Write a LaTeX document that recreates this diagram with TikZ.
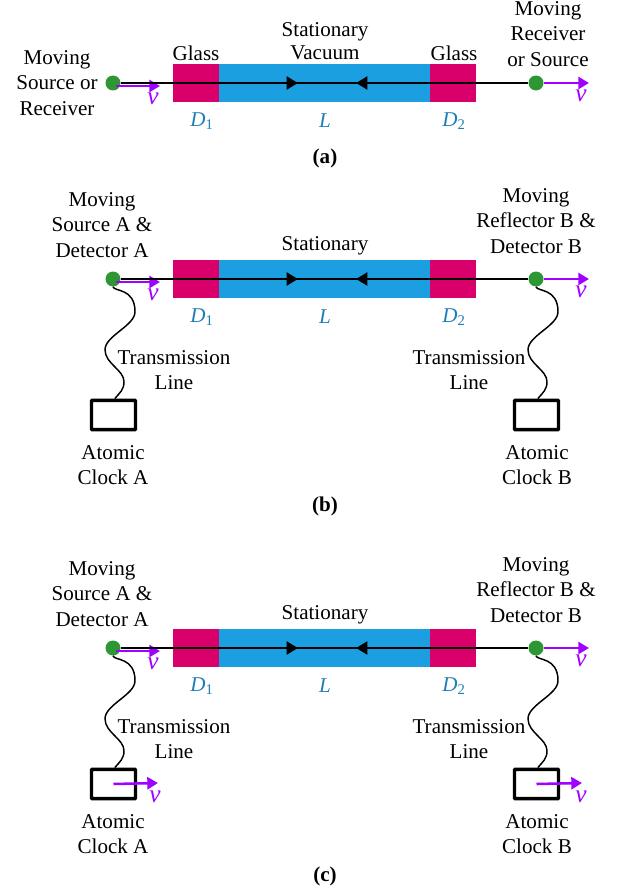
\documentclass[tikz,border=0pt]{standalone}
\usepackage{fontspec}
\setmainfont{Liberation Serif}
\usetikzlibrary{arrows.meta}
\definecolor{glasscol}{HTML}{D9006C}
\definecolor{vaccol}{HTML}{1B9FE0}
\definecolor{dotcol}{HTML}{2E9632}
\definecolor{velcol}{HTML}{A000FF}
\definecolor{lencol}{HTML}{1F7FB5}
\tikzset{
  label/.style={anchor=center, align=center, inner sep=0pt, font=\fontsize{15.8}{19.3}\selectfont},
  lenlabel/.style={label, text=lencol, font=\fontsize{15.8}{19.3}\selectfont\itshape},
  vellabel/.style={label, text=velcol, font=\fontsize{19}{19.3}\selectfont\itshape},
  partlabel/.style={label, font=\fontsize{15.8}{19.3}\selectfont\bfseries},
  movingdot/.style={circle, fill=dotcol, minimum size=11.25pt, inner sep=0pt},
  beam/.style={line width=2.2pt},
  beamtip/.style={beam, -{Triangle[length=8.5pt, width=9.5pt]}},
  velarrow/.style={line width=1.9pt, draw=velcol, -{Triangle[length=8pt, width=9pt]}},
  wire/.style={line width=1.1pt},
  clock/.style={draw, line width=2.6pt, rounded corners=.5pt, minimum width=33pt, minimum height=22pt, inner sep=0pt}
}
\newcommand{\wirefrom}[2]{
  \draw[wire] (#1.south) .. controls +(1,5) and +(0,-24) .. ++(22,25)
    .. controls +(0,14) and +(0,-14) .. ++(-30,38)
    .. controls +(0,14) and +(0,-12) .. ++(19,32)
    .. controls +(0,8) and +(5,-6) .. ([xshift=1pt]#2.north);
}
\begin{document}
\begin{tikzpicture}[x=0.75pt, y=-0.75pt]
  \useasboundingbox (0, 0) rectangle (617, 892);

  \foreach \p/\y in {a/83, b/279, c/648} {
    \begin{scope}[shift={(0, \y)}]
      \fill[glasscol] (173, -19) rectangle (219, 19);
      \fill[vaccol] (219, -19) rectangle (430, 19);
      \fill[glasscol] (430, -19) rectangle (476, 19);

      \node[movingdot] (dotL\p) at (113, 0) {};
      \node[movingdot] (dotR\p) at (536, 0) {};
      \coordinate (midR\p) at (298, 0);
      \coordinate (midL\p) at (356, 0);
      \coordinate (velL\p) at (160, 3);
      \coordinate (velR\p) at (589, 0);

      \draw[velarrow] ([shift={(3, 3)}]dotL\p.center) -- (velL\p);
      \draw[velarrow] (dotR\p) -- (velR\p);
      \draw[beam] (dotL\p) -- (dotR\p);
      \draw[beamtip] (dotL\p) -- (midR\p);
      \draw[beamtip] (dotR\p) -- (midL\p);

      \node[vellabel] (velLabelL\p) at (153, 16) {v};
      \node[vellabel] (velLabelR\p) at (581, 13) {v};

      \node[lenlabel] (lenD1\p) at (202, 38) {D\textsubscript{\upshape 1}};
      \node[lenlabel] (lenL\p) at (325, 38) {L};
      \node[lenlabel] (lenD2\p) at (454, 38) {D\textsubscript{\upshape 2}};
    \end{scope}
  }

  \node[label] (srcA) at (57, 83) {Moving\\Source or\\Receiver};
  \node[label] (rcvA) at (548, 34) {Moving\\Receiver\\or Source};
  \node[label] (glassLA) at (196, 53) {Glass};
  \node[label] (glassRA) at (454, 53) {Glass};
  \node[label] (statA) at (325, 41) {Stationary\\[-2.5pt]Vacuum};
  \node[partlabel] (partA) at (325, 158) {(a)};

  \foreach \p/\y in {b/279, c/648} {
    \begin{scope}[shift={(0, \y)}]
      \node[label] (srcB\p) at (102, -54) {Moving\\Source A \&\\Detector A};
      \node[label] (rcvB\p) at (536, -58) {Moving\\Reflector B \&\\Detector B};
      \node[label] (stat\p) at (325, -33) {Stationary};
      \node[label] (lineL\p) at (174, 91) {Transmission\\Line};
      \node[label] (lineR\p) at (469, 91) {Transmission\\Line};
      \node[clock] (clockA\p) at (113.5, 136) {};
      \node[clock] (clockB\p) at (536.5, 136) {};
      \node[label] (nameA\p) at (113, 186) {Atomic\\Clock A};
      \node[label] (nameB\p) at (537, 186) {Atomic\\Clock B};
      \wirefrom{dotL\p}{clockA\p}
      \wirefrom{dotR\p}{clockB\p}
    \end{scope}
  }

  \node[partlabel] (partB) at (325, 506) {(b)};
  \node[partlabel] (partC) at (325, 876) {(c)};

  \coordinate (clockVelA) at (158, 783);
  \coordinate (clockVelB) at (582, 783);
  \draw[velarrow] (clockAc.center) -- (clockVelA);
  \draw[velarrow] (clockBc.center) -- (clockVelB);
  \node[vellabel] (velClockA) at (155, 797) {v};
  \node[vellabel] (velClockB) at (581, 797) {v};
\end{tikzpicture}
\end{document}
